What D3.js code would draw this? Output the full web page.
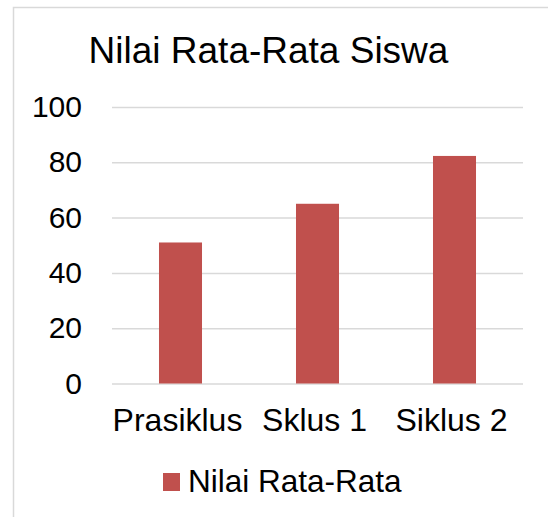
<!DOCTYPE html>
<html>
<head>
<meta charset="utf-8">
<script src="https://cdn.jsdelivr.net/npm/d3@7"></script>
<style>
  body { margin: 0; background: #fff; }
  svg { display: block; font-family: "Liberation Sans", Arial, sans-serif; }
</style>
</head>
<body>
<div id="chart"></div>
<script>
(function () {

  // chart data
  let categories = ["Prasiklus", "Sklus 1", "Siklus 2"];
  let values = [51, 65, 82.3];
  let yTicks = [0, 20, 40, 60, 80, 100];
  let seriesName = "Nilai Rata-Rata";
  let title = "Nilai Rata-Rata Siswa";

  let width = 548, height = 517;
  let plot = {left: 112, right: 523, top: 107, bottom: 383.5};

  let svg = d3.select("#chart")
    .append("svg")
      .attr("width", width)
      .attr("height", height);

  // outer chart frame (runs off the right and bottom edges)
  svg.append("rect")
      .attr("x", 13.5)
      .attr("y", 7.5)
      .attr("width", 560)
      .attr("height", 540)
      .attr("fill", "#fff")
      .attr("stroke", "#d9d9d9")
      .attr("stroke-width", 1.5);

  // title
  svg.append("text")
      .attr("x", 268.5)
      .attr("y", 63)
      .attr("text-anchor", "middle")
      .attr("font-size", 37)
      .attr("fill", "#000")
      .text(title);

  // scales
  let x = d3.scaleBand()
      .domain(categories)
      .range([plot.left, plot.right])
      .paddingInner(0.686)
      .paddingOuter(0.343);

  let y = d3.scaleLinear()
      .domain([0, 100])
      .range([plot.bottom, plot.top]);

  // Y axis with gridlines
  let yAxis = svg.append("g")
      .attr("transform", "translate(" + plot.left + ",0)")
      .call(d3.axisLeft(y)
        .tickValues(yTicks)
        .tickSize(-(plot.right - plot.left))
        .tickPadding(30));
  yAxis.select(".domain").remove();
  yAxis.selectAll("line")
      .attr("stroke", "#d9d9d9")
      .attr("stroke-width", 1.5);
  yAxis.selectAll("text")
      .attr("font-size", 30)
      .attr("font-family", "'Liberation Sans', Arial, sans-serif")
      .attr("fill", "#000");

  // bars
  svg.selectAll("rect.bar")
      .data(values)
      .enter()
      .append("rect")
        .attr("class", "bar")
        .attr("x", function(d, i) { return x(categories[i]); })
        .attr("y", function(d) { return y(d); })
        .attr("width", x.bandwidth())
        .attr("height", function(d) { return y(0) - y(d); })
        .attr("fill", "#c0504d");

  // X axis labels
  let xAxis = svg.append("g")
      .attr("transform", "translate(-3," + plot.bottom + ")")
      .call(d3.axisBottom(x).tickSize(0).tickPadding(25));
  xAxis.select(".domain").remove();
  xAxis.selectAll("text")
      .attr("font-size", 32)
      .attr("font-family", "'Liberation Sans', Arial, sans-serif")
      .attr("fill", "#000");

  // legend
  let legend = svg.append("g")
      .attr("transform", "translate(163,473)");
  legend.append("rect")
      .attr("width", 17)
      .attr("height", 18)
      .attr("fill", "#c0504d");
  legend.append("text")
      .attr("x", 25)
      .attr("y", 19)
      .attr("font-size", 31.5)
      .attr("fill", "#000")
      .text(seriesName);

})();
</script>
</body>
</html>
